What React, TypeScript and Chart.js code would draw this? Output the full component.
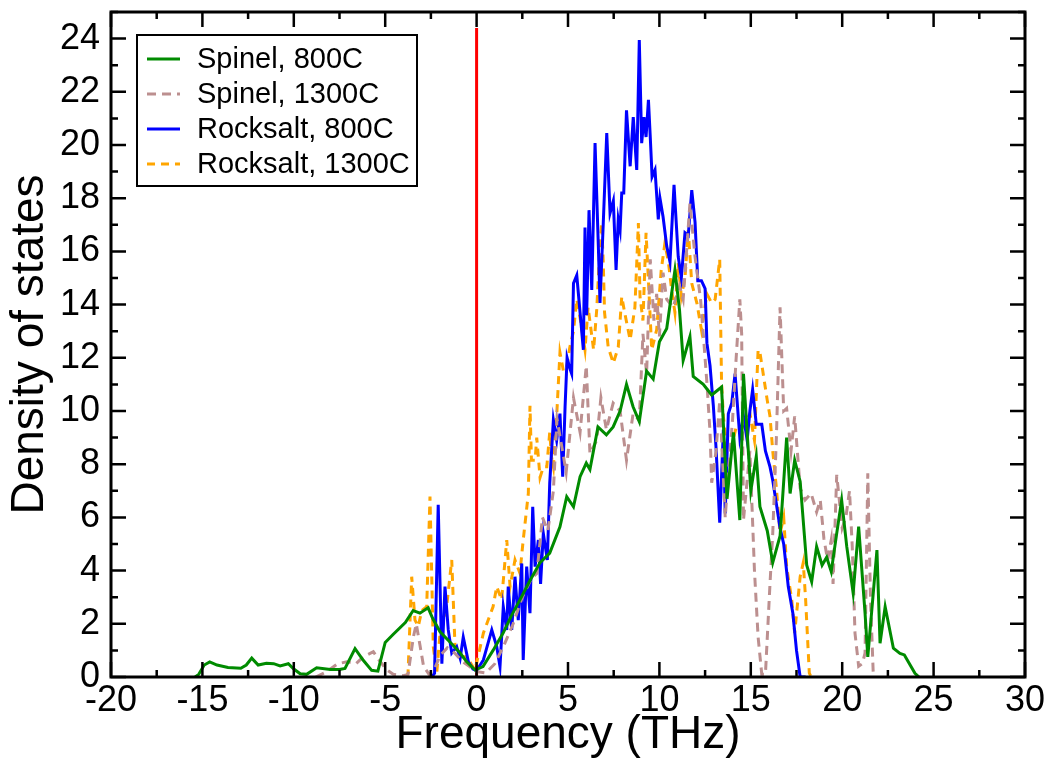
import { useEffect, useRef } from "react";
import { Chart, registerables } from "chart.js";

Chart.register(...registerables);

const xTickValues = [-20, -15, -10, -5, 0, 5, 10, 15, 20, 25, 30];
const yTickValues = [0, 2, 4, 6, 8, 10, 12, 14, 16, 18, 20, 22, 24];
const xTitle = "Frequency (THz)";
const yTitle = "Density of states";
const seriesLabels = ["Spinel, 800C", "Spinel, 1300C", "Rocksalt, 800C", "Rocksalt, 1300C"];

const spinel800: [number, number][] = [
  [-15.4, 0], [-15.2, 0.1], [-14.9, 0.45], [-14.6, 0.57], [-14.2, 0.45], [-13.6, 0.36], [-12.9, 0.33],
  [-12.6, 0.45], [-12.3, 0.71], [-11.95, 0.45], [-11.5, 0.52], [-11.1, 0.5], [-10.75, 0.42], [-10.3, 0.5],
  [-10.0, 0.3], [-9.65, 0.12], [-9.3, 0.1], [-8.75, 0.35], [-8.0, 0.28], [-7.5, 0.28], [-7.2, 0.32],
  [-6.65, 1.07], [-6.2, 0.63], [-5.74, 0.25], [-5.4, 0.22], [-5.0, 1.3], [-4.57, 1.6], [-3.9, 2.05],
  [-3.47, 2.5], [-3.1, 2.4], [-2.65, 2.6], [-2.4, 2.2], [-2.0, 1.7], [-1.3, 1.2], [-0.9, 0.9],
  [-0.54, 0.57], [-0.08, 0.26], [0.35, 0.39], [0.9, 1.0], [1.45, 1.65], [1.9, 2.3], [2.37, 2.9],
  [2.9, 3.6], [3.47, 4.3], [4.0, 4.66], [4.56, 5.65], [4.93, 6.78], [5.3, 6.4], [5.66, 7.53], [6.0, 8.04],
  [6.2, 7.8], [6.64, 9.4], [7.1, 9.1], [7.47, 9.4], [7.85, 10.0], [8.2, 11.0], [8.56, 10.16], [8.9, 9.6],
  [9.3, 11.5], [9.66, 11.2], [10.0, 12.6], [10.4, 13.1], [10.85, 15.3], [11.1, 13.8], [11.3, 11.9],
  [11.67, 12.8], [11.85, 11.3], [12.4, 11.0], [12.86, 10.6], [13.4, 10.9], [13.7, 6.7], [14.05, 9.2],
  [14.4, 5.9], [14.6, 11.4], [15.0, 7.0], [15.3, 8.3], [15.5, 6.4], [15.9, 5.5], [16.2, 4.3], [16.6, 5.3],
  [16.96, 9.0], [17.15, 6.9], [17.4, 8.15], [17.7, 7.35], [18.06, 4.2], [18.33, 3.58], [18.6, 4.9],
  [18.9, 4.2], [19.15, 4.5], [19.4, 3.96], [19.7, 5.4], [19.97, 6.65], [20.25, 4.9], [20.6, 3.15],
  [20.9, 5.65], [21.25, 2.4], [21.4, 0.76], [21.9, 4.77], [22.07, 1.27], [22.35, 2.64], [22.8, 1.08],
  [23.16, 0.89], [23.4, 0.83], [23.98, 0.14], [24.2, 0],
];

const spinel1300: [number, number][] = [
  [-8.8, 0], [-8.2, 0.2], [-7.6, 0.5], [-7.1, 0.57], [-6.6, 0.5], [-6.2, 0.76], [-5.65, 0.95], [-5.3, 0.6],
  [-4.9, 0.26], [-4.56, 0.1], [-4.0, 0.05], [-3.75, 0.1], [-3.46, 1.5], [-3.3, 2.0], [-3.1, 1.2],
  [-2.9, 0.4], [-2.6, 0.1], [-2.3, 0.3], [-2.0, 0.8], [-1.6, 1.1], [-1.2, 0.9], [-0.8, 0.6], [-0.4, 0.4],
  [0, 0.2], [0.5, 0.15], [1.0, 0.5], [1.5, 1.2], [2.0, 2.0], [2.5, 3.0], [3.0, 3.7], [3.3, 3.9],
  [3.6, 6.0], [3.9, 5.5], [4.2, 7.0], [4.4, 9.7], [4.7, 8.5], [4.9, 7.7], [5.3, 10.5], [5.66, 9.2],
  [6.0, 11.7], [6.2, 8.4], [6.57, 8.9], [6.8, 10.5], [7.1, 9.3], [7.47, 10.3], [7.85, 10.0], [8.2, 8.15],
  [8.56, 9.9], [8.9, 9.65], [9.1, 12.9], [9.3, 11.4], [9.5, 15.7], [9.7, 13.4], [9.85, 14.4], [10.0, 12.8],
  [10.2, 15.2], [10.4, 14.2], [10.75, 13.9], [11.1, 14.7], [11.3, 14.2], [11.67, 17.8], [11.95, 15.8],
  [12.25, 14.2], [12.4, 12.9], [12.6, 11.05], [12.77, 9.2], [12.86, 7.3], [13.1, 8.5], [13.3, 10.4],
  [13.6, 6.0], [13.8, 7.9], [14.0, 9.65], [14.2, 12.0], [14.4, 14.2], [14.5, 12.9], [14.6, 5.9],
  [14.95, 8.5], [15.2, 4.0], [15.4, 1.5], [15.6, 0.1], [15.8, 0.1], [16.05, 3.5], [16.2, 5.4], [16.4, 9.0],
  [16.6, 13.9], [16.8, 10.0], [16.96, 10.1], [17.2, 8.5], [17.4, 9.8], [17.7, 7.1], [17.97, 6.65],
  [18.3, 6.9], [18.6, 6.2], [18.8, 6.65], [19.0, 5.2], [19.2, 4.4], [19.4, 5.15], [19.5, 3.5], [19.7, 7.6],
  [20.0, 5.6], [20.2, 6.0], [20.4, 7.0], [20.55, 4.9], [20.7, 1.65], [20.9, 0.4], [21.1, 0.5], [21.25, 0.9],
  [21.4, 7.66], [21.55, 2.9], [21.7, 0.1], [21.8, 0],
];

const rocksalt800: [number, number][] = [
  [-2.45, 0], [-2.3, 0.14], [-2.1, 6.47], [-1.9, 0.5], [-1.73, 3.4], [-1.55, 1.77], [-1.36, 0.9],
  [-1.09, 1.14], [-0.9, 0.7], [-0.73, 1.5], [-0.45, 0.57], [-0.2, 0.3], [0, 0.24], [0.37, 0.64],
  [0.83, 1.77], [1.1, 1.14], [1.28, 0.39], [1.46, 2.64], [1.65, 1.77], [1.73, 3.4], [1.92, 1.77],
  [2.1, 3.77], [2.28, 2.14], [2.47, 4.27], [2.55, 0.64], [2.74, 4.15], [2.92, 2.4], [3.07, 6.4],
  [3.2, 4.15], [3.38, 5.15], [3.5, 3.5], [3.65, 5.4], [3.87, 4.4], [4.0, 7.28], [4.2, 9.66], [4.38, 8.9],
  [4.56, 9.9], [4.71, 7.53], [4.84, 10.16], [4.95, 12.0], [5.1, 11.6], [5.2, 11.4], [5.3, 14.8],
  [5.48, 15.1], [5.66, 13.7], [5.84, 12.3], [5.93, 16.9], [6.02, 13.6], [6.15, 17.55], [6.3, 14.55],
  [6.48, 20.07], [6.66, 16.2], [6.75, 14.06], [6.93, 17.07], [7.12, 20.45], [7.3, 17.44], [7.48, 17.9],
  [7.63, 15.3], [7.75, 17.2], [7.85, 16.8], [7.94, 18.2], [8.05, 18.2], [8.2, 21.3], [8.4, 19.2],
  [8.57, 21.05], [8.76, 19.06], [8.9, 23.95], [9.03, 20.07], [9.16, 21.05], [9.27, 20.3], [9.4, 21.7],
  [9.5, 20.3], [9.6, 18.8], [9.76, 19.06], [9.94, 17.2], [10.03, 18.0], [10.2, 17.3], [10.4, 16.2],
  [10.58, 15.6], [10.8, 18.5], [11.03, 15.8], [11.2, 15.0], [11.4, 16.7], [11.58, 16.6], [11.77, 18.3],
  [11.95, 17.1], [12.1, 14.9], [12.3, 14.9], [12.5, 14.6], [12.6, 12.55], [12.77, 11.7], [12.95, 10.2],
  [13.1, 8.6], [13.3, 5.8], [13.5, 9.3], [13.6, 6.15], [13.77, 9.9], [13.96, 10.3], [14.14, 11.4],
  [14.4, 9.0], [14.6, 9.8], [14.8, 8.9], [14.95, 10.0], [15.1, 10.8], [15.3, 9.5], [15.6, 9.5], [15.8, 8.5],
  [16.05, 7.9], [16.2, 7.4], [16.4, 6.5], [16.6, 5.6], [16.8, 5.0], [17.05, 3.4], [17.3, 2.4], [17.5, 1.0],
  [17.7, 0], [18.0, 0],
];

const rocksalt1300: [number, number][] = [
  [-3.85, 0], [-3.75, 0.15], [-3.55, 3.77], [-3.37, 2.14], [-3.19, 1.9], [-3.0, 2.5], [-2.73, 2.64],
  [-2.55, 6.78], [-2.37, 1.14], [-2.18, 0.15], [-2.0, 1.65], [-1.82, 2.0], [-1.64, 2.64], [-1.36, 4.4],
  [-1.18, 1.14], [-0.9, 0.76], [-0.54, 0.76], [-0.09, 0.26], [0.37, 1.65], [0.9, 2.64], [1.1, 3.4],
  [1.37, 2.9], [1.65, 5.15], [1.83, 3.4], [2.1, 4.4], [2.37, 3.9], [2.55, 5.15], [2.83, 6.9], [2.92, 10.2],
  [3.0, 8.15], [3.2, 8.15], [3.29, 9.0], [3.47, 7.5], [3.65, 7.9], [3.84, 7.9], [4.0, 9.2], [4.1, 8.27],
  [4.2, 7.9], [4.38, 9.8], [4.56, 12.2], [4.75, 11.5], [4.93, 11.66], [5.1, 12.4], [5.3, 13.0],
  [5.48, 14.2], [5.66, 13.5], [5.93, 12.3], [6.1, 13.9], [6.4, 12.3], [6.57, 13.8], [6.7, 15.56],
  [6.84, 17.07], [6.93, 15.56], [7.0, 13.7], [7.2, 12.4], [7.48, 11.8], [7.75, 12.4], [7.94, 14.3],
  [8.1, 13.7], [8.4, 12.67], [8.66, 13.9], [8.85, 17.07], [8.94, 14.3], [9.1, 13.4], [9.27, 16.7],
  [9.4, 14.9], [9.58, 12.3], [9.85, 13.05], [10.1, 15.3], [10.3, 16.3], [10.5, 15.56], [10.67, 14.55],
  [10.85, 13.7], [11.03, 15.56], [11.2, 14.3], [11.4, 15.0], [11.58, 16.8], [11.77, 14.8], [12.05, 14.06],
  [12.3, 13.05], [12.6, 14.4], [12.86, 14.06], [13.05, 14.2], [13.3, 15.7], [13.4, 11.05], [13.5, 9.8],
  [13.7, 8.5], [13.9, 8.5], [14.2, 9.4], [14.6, 9.4], [14.95, 9.9], [15.2, 8.9], [15.4, 12.3], [15.5, 12.2],
  [15.7, 11.3], [15.9, 10.4], [16.05, 9.8], [16.2, 8.5], [16.4, 7.1], [16.6, 5.4], [16.8, 6.0],
  [16.96, 4.15], [17.24, 2.9], [17.4, 1.65], [17.7, 3.77], [17.87, 4.3], [18.0, 2.9], [18.2, 0.15],
  [18.3, 0],
];

const zeroLine: [number, number][] = [[0, 0], [0, 24.4]];

const FONT = "'Liberation Sans', Arial, Helvetica, sans-serif";

const toPts = (arr: [number, number][]) => arr.map(([x, y]) => ({ x, y }));

const framePlugin = {
  id: "frameTicks",
  afterDatasetsDraw(chart: any) {
    const { ctx, chartArea: a, scales } = chart;
    const xs = scales.x;
    const ys = scales.y;
    const major = 15;
    const minor = 7;
    ctx.save();
    ctx.strokeStyle = "#000";
    ctx.lineWidth = 2.5;
    ctx.beginPath();
    const xMinor = xTickValues.slice(0, -1).map((v, i) => (v + xTickValues[i + 1]) / 2);
    const yMinor = yTickValues.map((v) => v + 1);
    xTickValues.forEach((v) => {
      const p = xs.getPixelForValue(v);
      ctx.moveTo(p, a.bottom); ctx.lineTo(p, a.bottom - major);
      ctx.moveTo(p, a.top); ctx.lineTo(p, a.top + major);
    });
    xMinor.forEach((v) => {
      const p = xs.getPixelForValue(v);
      ctx.moveTo(p, a.bottom); ctx.lineTo(p, a.bottom - minor);
      ctx.moveTo(p, a.top); ctx.lineTo(p, a.top + minor);
    });
    yTickValues.forEach((v) => {
      const p = ys.getPixelForValue(v);
      ctx.moveTo(a.left, p); ctx.lineTo(a.left + major, p);
      ctx.moveTo(a.right, p); ctx.lineTo(a.right - major, p);
    });
    yMinor.forEach((v) => {
      const p = ys.getPixelForValue(v);
      ctx.moveTo(a.left, p); ctx.lineTo(a.left + minor, p);
      ctx.moveTo(a.right, p); ctx.lineTo(a.right - minor, p);
    });
    ctx.stroke();
    ctx.lineWidth = 3;
    ctx.strokeRect(a.left, a.top, a.right - a.left, a.bottom - a.top);
    ctx.restore();
  },
};

const legendPlugin = {
  id: "boxLegend",
  afterDraw(chart: any) {
    const { ctx } = chart;
    const boxX = 137, boxY = 35, boxW = 280, boxH = 151;
    ctx.save();
    ctx.fillStyle = "#fff";
    ctx.fillRect(boxX, boxY, boxW, boxH);
    ctx.strokeStyle = "#000";
    ctx.lineWidth = 2;
    ctx.strokeRect(boxX, boxY, boxW, boxH);
    ctx.font = `29px ${FONT}`;
    ctx.textBaseline = "middle";
    ctx.textAlign = "left";
    const rowY0 = 59, rowStep = 35;
    chart.data.datasets.forEach((ds: any, i: number) => {
      if (!ds.label) return;
      const y = rowY0 + i * rowStep;
      ctx.beginPath();
      ctx.strokeStyle = ds.borderColor;
      ctx.lineWidth = ds.borderWidth;
      ctx.setLineDash(ds.borderDash || []);
      ctx.moveTo(147, y);
      ctx.lineTo(180, y);
      ctx.stroke();
      ctx.setLineDash([]);
      ctx.fillStyle = "#000";
      ctx.fillText(ds.label, 197, y + 1);
    });
    ctx.restore();
  },
};

export default function App() {
  const ref = useRef<HTMLCanvasElement | null>(null);
  useEffect(() => {
    document.body.style.margin = "0";
    const canvas = ref.current;
    if (!canvas) return;
    const common = { pointRadius: 0, borderWidth: 3, tension: 0, fill: false };
    const chart = new Chart(canvas, {
      type: "line",
      data: {
        datasets: [
          { ...common, label: seriesLabels[0], data: toPts(spinel800), borderColor: "#008b00" },
          { ...common, label: seriesLabels[1], data: toPts(spinel1300), borderColor: "#bc8f8f", borderDash: [9, 6] },
          { ...common, label: seriesLabels[2], data: toPts(rocksalt800), borderColor: "#0000ff" },
          { ...common, label: seriesLabels[3], data: toPts(rocksalt1300), borderColor: "#ffa500", borderDash: [8, 6] },
          { ...common, label: "", data: toPts(zeroLine), borderColor: "#ff0000" },
        ],
      },
      options: {
        animation: false,
        responsive: false,
        devicePixelRatio: 1,
        layout: { padding: { top: 12, right: 26, left: 0, bottom: 0 } },
        plugins: { legend: { display: false }, tooltip: { enabled: false } },
        scales: {
          x: {
            type: "linear",
            min: -20,
            max: 30,
            afterBuildTicks: (s: any) => { s.ticks = xTickValues.map((v) => ({ value: v })); },
            afterFit: (s: any) => { s.height = 86; s.paddingLeft = 0; s.paddingRight = 0; },
            grid: { display: false, drawTicks: false },
            border: { display: false },
            ticks: {
              autoSkip: false,
              maxRotation: 0,
              padding: 2,
              color: "#000",
              font: { family: FONT, size: 36 },
              callback: (v: any) => String(v),
            },
            title: {
              display: true,
              text: xTitle,
              color: "#000",
              font: { family: FONT, size: 46 },
              padding: { top: 0, bottom: 0 },
            },
          },
          y: {
            type: "linear",
            min: 0,
            max: 25,
            afterBuildTicks: (s: any) => { s.ticks = yTickValues.map((v) => ({ value: v })); },
            afterFit: (s: any) => { s.width = 111; s.paddingTop = 0; s.paddingBottom = 0; },
            grid: { display: false, drawTicks: false },
            border: { display: false },
            ticks: {
              autoSkip: false,
              padding: 11,
              color: "#000",
              font: { family: FONT, size: 36 },
              callback: (v: any) => String(v),
            },
            title: {
              display: true,
              text: yTitle,
              color: "#000",
              font: { family: FONT, size: 46 },
              padding: { top: 3, bottom: 0 },
            },
          },
        },
      },
      plugins: [framePlugin, legendPlugin],
    });
    return () => chart.destroy();
  }, []);
  return <canvas ref={ref} width={1051} height={763} style={{ display: "block" }} />;
}
